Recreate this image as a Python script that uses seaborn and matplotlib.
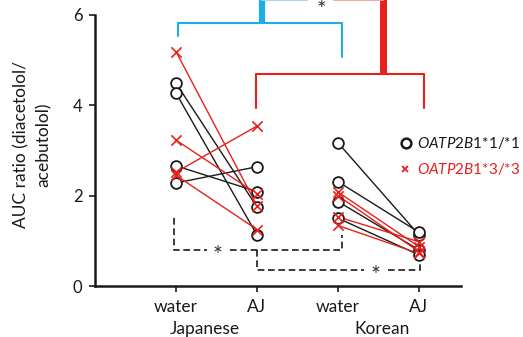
import numpy as np
import pandas as pd
import seaborn as sns
import matplotlib.pyplot as plt

# values
conditions = ["water", "AJ", "water", "AJ"]
groups = ["Japanese", "Korean"]
ylabel_lines = ["AUC ratio (diacetolol/", "acebutolol)"]

jp_water_11 = [4.49, 4.27, 2.66, 2.28]
jp_aj_11 = [1.75, 1.13, 2.09, 2.64]
jp_water_33 = [5.19, 3.23, 2.52, 2.45]
jp_aj_33 = [1.78, 2.04, 3.54, 1.25]

kr_water_11 = [3.17, 2.31, 1.87, 1.50]
kr_aj_11 = [1.13, 1.19, 0.80, 0.69]
kr_water_33 = [2.08, 2.00, 1.53, 1.34]
kr_aj_33 = [0.87, 0.76, 0.98, 0.72]

BLACK = "#1a1a1a"
RED = "#e8201c"
CYAN = "#1eaee3"


def build_frame() -> pd.DataFrame:
    rows = []
    sets = [
        ("*1/*1", 1, jp_water_11, jp_aj_11, "jp11"),
        ("*3/*3", 1, jp_water_33, jp_aj_33, "jp33"),
        ("*1/*1", 3, kr_water_11, kr_aj_11, "kr11"),
        ("*3/*3", 3, kr_water_33, kr_aj_33, "kr33"),
    ]
    for geno, start, water, aj, tag in sets:
        for i, (w, a) in enumerate(zip(water, aj)):
            subj = f"{tag}_{i}"
            rows.append(dict(subject=subj, genotype=geno, pos=start, auc=w))
            rows.append(dict(subject=subj, genotype=geno, pos=start + 1, auc=a))
    return pd.DataFrame(rows)


def main():
    df = build_frame()
    sns.set_style("ticks")
    plt.rcParams["font.family"] = ["Lato", "DejaVu Sans"]
    plt.rcParams["mathtext.fontset"] = "custom"
    plt.rcParams["mathtext.it"] = "Lato:italic"
    plt.rcParams["mathtext.rm"] = "Lato"

    fig = plt.figure(figsize=(5.23, 3.37), dpi=100)
    ax = fig.add_axes([0.1816, 0.1513, 0.70, 0.8487])

    palette = {"*1/*1": BLACK, "*3/*3": RED}
    sns.lineplot(data=df, x="pos", y="auc", hue="genotype", units="subject",
                 estimator=None, palette=palette, lw=1.0, legend=False, ax=ax)

    d11 = df[df.genotype == "*1/*1"]
    d33 = df[df.genotype == "*3/*3"]
    sns.scatterplot(data=d11, x="pos", y="auc", marker="o", s=60,
                    facecolor="white", edgecolor=BLACK, linewidth=1.3,
                    legend=False, ax=ax, zorder=3)
    sns.scatterplot(data=d33, x="pos", y="auc", marker="x", s=55,
                    color=RED, linewidth=1.2, legend=False, ax=ax, zorder=4)

    ax.set_xlim(0, 4.52)
    ax.set_ylim(0, 6.33)
    ax.set_xticks([1, 2, 3, 4])
    ax.set_xticklabels(conditions, fontsize=12.5)
    ax.set_yticks([0, 2, 4, 6])
    ax.set_yticklabels(["0", "2", "4", "6"], fontsize=12)
    ax.set_xlabel("")
    ax.set_ylabel("")
    # two-line y label, each line centred
    for xf, line in zip([0.040, 0.083], ylabel_lines):
        fig.text(xf, 0.57, line, rotation=90, ha="center", va="center",
                 fontsize=12.5, color=BLACK)
    ax.spines["top"].set_visible(False)
    ax.spines["right"].set_visible(False)
    ax.spines["left"].set_bounds(0, 6)
    for s in ("left", "bottom"):
        ax.spines[s].set_linewidth(1.8)
        ax.spines[s].set_color(BLACK)
    ax.tick_params(axis="both", length=4, width=1.2, color=BLACK,
                   labelcolor=BLACK)
    ax.tick_params(axis="x", pad=5)
    ax.tick_params(axis="y", pad=5)

    # group labels
    for xc, name in zip([1.36, 3.55], groups):
        ax.text(xc, -0.15, name, transform=ax.get_xaxis_transform(),
                ha="center", va="center", fontsize=12.5, color=BLACK)

    # dashed significance brackets
    dash = dict(color=BLACK, lw=1.2, ls=(0, (4, 2.2)), clip_on=False)
    ax.plot([0.97, 0.97, 1.38], [1.50, 0.80, 0.80], **dash)
    ax.plot([1.67, 3.05, 3.05], [0.80, 0.80, 1.13], **dash)
    ax.text(1.51, 0.68, "*", ha="center", va="center", fontsize=17,
            color="#333333")
    ax.plot([2.0, 2.0, 3.32], [0.80, 0.36, 0.36], **dash)
    ax.plot([3.62, 4.01, 4.01], [0.36, 0.36, 0.52], **dash)
    ax.text(3.46, 0.24, "*", ha="center", va="center", fontsize=17,
            color="#333333")

    # coloured brackets at the top
    ax.plot([1.02, 1.02, 3.05, 3.05], [5.53, 5.82, 5.82, 5.07],
            color=CYAN, lw=1.5, clip_on=False)
    ax.plot([2.06, 2.06], [5.82, 6.40], color=CYAN, lw=4.5,
            solid_capstyle="butt", clip_on=False)
    ax.plot([1.99, 1.99, 4.06, 4.06], [3.94, 4.69, 4.69, 3.94],
            color=RED, lw=1.5, clip_on=False)
    ax.plot([3.56, 3.56], [4.69, 6.40], color=RED, lw=5,
            solid_capstyle="butt", clip_on=False)
    ax.plot([2.06, 2.62], [6.33, 6.33], color="#9fdcf2", lw=1.5,
            clip_on=False)
    ax.plot([2.95, 3.56], [6.33, 6.33], color="#f7a6a4", lw=1.5,
            clip_on=False)
    ax.text(2.80, 6.10, "*", ha="center", va="center", fontsize=16,
            color="#333333")

    # legend
    ax.plot([3.84], [3.17], marker="o", ms=7, mfc="white", mec=BLACK,
            mew=1.8, clip_on=False)
    ax.plot([3.83], [2.59], marker="x", ms=5, color=RED, mew=1.3,
            clip_on=False)
    ax.text(3.98, 3.17, r"$\mathit{OATP2B1}$*1/*1", ha="left",
            va="center", fontsize=11, color=BLACK)
    ax.text(3.98, 2.59, r"$\mathit{OATP2B1}$*3/*3", ha="left",
            va="center", fontsize=11, color=RED)

    fig.savefig("out.png", dpi=100)


if __name__ == "__main__":
    main()
